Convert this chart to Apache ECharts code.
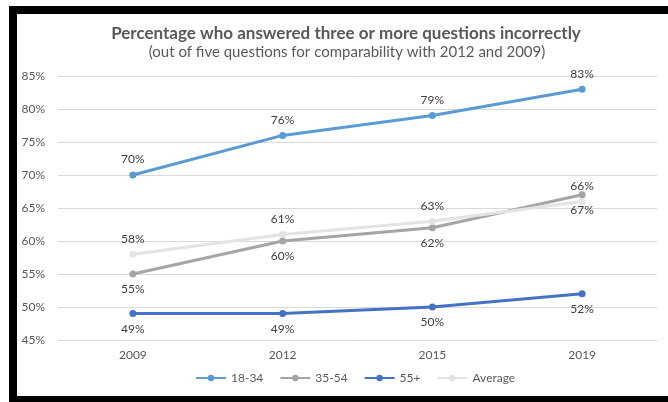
<!DOCTYPE html>
<html><head><meta charset="utf-8">
<script src="https://cdn.jsdelivr.net/npm/echarts@6/dist/echarts.min.js"></script>
<style>html,body{margin:0;padding:0;background:#fff}#c{width:668px;height:402px}</style>
</head><body><div id="c"></div>
<script>
const years = ['2009', '2012', '2015', '2019'];
const s1834 = [70, 76, 79, 83];
const s3554 = [55, 60, 62, 67];
const s55 = [49, 49, 50, 52];
const sAvg = [58, 61, 63, 66];
const FONT = 'Lato, "Open Sans", sans-serif';
const chart = echarts.init(document.getElementById('c'));
function mk(name, data, color, pos) {
  return {
    name, type: 'line', data, color,
    symbol: 'circle', symbolSize: 7,
    lineStyle: { width: 3, color },
    itemStyle: { color },
    label: { show: true, position: pos, distance: 6, formatter: '{c}%', color: '#404040', fontSize: 12, fontFamily: FONT }
  };
}
chart.setOption({
  backgroundColor: '#fff',
  animation: false,
  title: [{
    text: 'Percentage who answered three or more questions incorrectly',
    left: 341, top: 20, textAlign: 'center',
    textStyle: { fontSize: 17, fontWeight: 'bold', color: '#595959', fontFamily: FONT }
  }, {
    text: '(out of five questions for comparability with 2012 and 2009)',
    left: 342, top: 40, textAlign: 'center',
    textStyle: { fontSize: 15, fontWeight: 'normal', color: '#595959', fontFamily: FONT }
  }],
  legend: {
    bottom: 13, left: 190, itemWidth: 30, itemHeight: 8, itemGap: 16,
    textStyle: { color: '#595959', fontSize: 12, fontFamily: FONT },
    data: ['18-34', '35-54', '55+', 'Average']
  },
  grid: { left: 58, right: 11, top: 76, bottom: 62 },
  xAxis: {
    type: 'category', data: years, boundaryGap: true,
    axisLine: { lineStyle: { color: '#D9D9D9' } }, axisTick: { show: false },
    axisLabel: { color: '#595959', fontSize: 12, fontFamily: FONT, margin: 9 }
  },
  yAxis: {
    type: 'value', min: 45, max: 85, interval: 5,
    axisLabel: { formatter: '{value}%', color: '#595959', fontSize: 12, fontFamily: FONT, margin: 13 },
    splitLine: { lineStyle: { color: '#D9D9D9' } },
    axisLine: { show: false }, axisTick: { show: false }
  },
  series: [
    mk('18-34', s1834, '#5B9BD5', 'top'),
    mk('35-54', s3554, '#A5A5A5', 'bottom'),
    mk('55+', s55, '#4472C4', 'bottom'),
    mk('Average', sAvg, '#E3E3E3', 'top')
  ],
  graphic: [
    { type: 'rect', shape: { x: 9, y: 6, width: 8, height: 396 }, style: { fill: '#000' } },
    { type: 'rect', shape: { x: 9, y: 6, width: 659, height: 8 }, style: { fill: '#000' } },
    { type: 'rect', shape: { x: 9, y: 396, width: 659, height: 6 }, style: { fill: '#000' } }
  ]
});
</script></body></html>
